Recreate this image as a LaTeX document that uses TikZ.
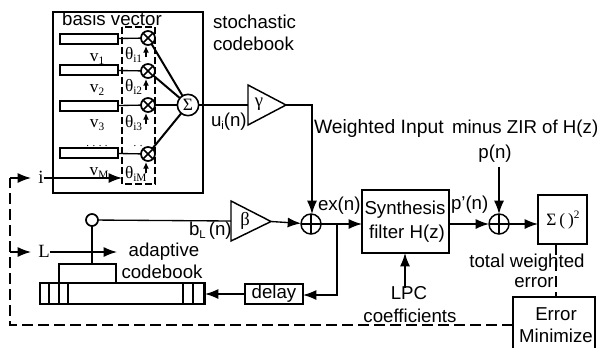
\documentclass[tikz,border=0pt]{standalone}
\usepackage{fontspec}
\setmainfont{Liberation Sans}
\newfontfamily\serifx{Liberation Serif}
\usetikzlibrary{arrows.meta,calc}
\tikzset{
 x=0.75pt,y=-0.75pt,
 every node/.style={inner sep=0pt,outer sep=0pt,font=\fontsize{14}{14}\selectfont},
 wire/.style={draw,line width=1pt},
 arr/.style={wire,-{Latex[length=10pt,width=7.5pt]}},
 thick wire/.style={draw,line width=1.5pt},
 dash wire/.style={draw,line width=1pt,dash pattern=on 8pt off 4pt},
 boxx/.style={draw,line width=1.1pt,inner sep=0pt,anchor=north west},
 cell/.style={draw,line width=1.1pt,anchor=north west,minimum width=43.5pt,minimum height=7.5pt},
 mult/.style={draw,circle,line width=1.3pt,minimum size=10.5pt},
 adder/.style={draw,circle,line width=1.1pt,minimum size=15pt},
 amp/.style={draw,line width=1.1pt},
 ser/.style={font=\serifx\fontsize{13}{13}\selectfont},
 junc/.style={inner sep=0pt,minimum size=0pt},
}
\newcommand{\subx}[1]{\raisebox{-2.5pt}{\fontsize{8.5}{8.5}\selectfont #1}}
\newcommand{\crosscirc}[1]{\draw[line width=1.2pt] ($(#1)+(-4.5,-4.5)$)--($(#1)+(4.5,4.5)$) ($(#1)+(-4.5,4.5)$)--($(#1)+(4.5,-4.5)$);}
\newcommand{\pluscirc}[1]{\draw[line width=1.1pt] ($(#1)+(-10,0)$)--($(#1)+(10,0)$) ($(#1)+(0,-10)$)--($(#1)+(0,10)$);}
\begin{document}
\begin{tikzpicture}
\useasboundingbox (0,0) rectangle (598,347);
% stochastic codebook
\node[boxx,minimum width=112.5pt,minimum height=135.75pt] (sbox) at (53,12) {};
\draw[line width=1pt,dash pattern=on 5pt off 2.5pt] (122,27) rectangle (155,184);
\node[cell] (c1) at (60,34) {};
\node[cell] (c2) at (60,65) {};
\node[cell] (c3) at (60,101) {};
\node[cell] (c4) at (60,148) {};
\node[mult] (m1) at (148,38) {}; \crosscirc{m1}
\node[mult] (m2) at (148,71) {}; \crosscirc{m2}
\node[mult] (m3) at (148,105) {}; \crosscirc{m3}
\node[mult] (m4) at (148,154) {}; \crosscirc{m4}
\node[draw,circle,line width=1.2pt,minimum size=16pt,font=\serifx\fontsize{13}{13}\selectfont] (sum) at (188,105) {Σ};
\foreach \i in {1,2,3,4}{\path[wire] (c\i) -- (m\i);}
\foreach \i in {1,2,4}{\path[thick wire] (m\i) -- (sum);}
\path[wire] (m3) -- (sum);
\foreach \i/\y in {1/57,2/90,3/124,4/173}{
 \coordinate (t\i) at (146,\y);
 \path[wire,-{Latex[length=5pt,width=4.5pt]}] (t\i) -- (146,{\y-11}) ;
}
\node[anchor=base] (bv) at (112,25) {basis vector};
\node[anchor=base west] (sc1) at (213,28) {stochastic};
\node[anchor=base west] (sc2) at (213,50) {codebook};
\node[ser,anchor=base] (v1) at (97,61) {v\subx{1}};
\node[ser,anchor=base] (v2) at (97,92) {v\subx{2}};
\node[ser,anchor=base] (v3) at (97,127) {v\subx{3}};
\node[ser,anchor=base] (v4) at (99,175) {v\subx{M}};
\node[font=\serifx\fontsize{8}{8}\selectfont,anchor=base] (d1) at (97,146) {. . . .};
\node[font=\serifx\fontsize{8}{8}\selectfont,anchor=base] (d2) at (138,146) {. .};
\node[ser,anchor=base west] (th1) at (125,59) {θ\subx{i1}};
\node[ser,anchor=base west] (th2) at (125,91) {θ\subx{i2}};
\node[ser,anchor=base west] (th3) at (125,127) {θ\subx{i3}};
\node[ser,anchor=base west] (th4) at (125,178) {θ\subx{iM}};
% gamma
\node[junc] (gin) at (248,105) {};
\draw[amp] (248,85) -- (286,105) -- (248,125) -- cycle;
\node[font=\serifx\fontsize{14}{14}\selectfont] (gam) at (259,104) {γ};
\coordinate (gout) at (286,105);
\path[wire] (sum) -- (gin);
\node[anchor=base west] (ui) at (211,126) {u\subx{i}(n)};
% adders and blocks
\node[adder] (a1) at (311,224) {}; \pluscirc{a1}
\node[boxx,minimum width=65.25pt,minimum height=47.25pt,align=center] (syn) at (362,190) {};
\node[anchor=base] (synt1) at (405,214) {Synthesis};
\node[anchor=base] (synt2) at (407,238) {filter H(z)};
\node[adder] (a2) at (499,224) {}; \pluscirc{a2}
\node[boxx,minimum width=36.75pt,minimum height=36.75pt] (sq) at (538,195) {};
\node[font=\serifx\fontsize{13}{13}\selectfont] (sqt) at (563,220) {Σ\,(\,)\raisebox{5pt}{\fontsize{8.5}{8.5}\selectfont 2}};
\node[boxx,minimum width=61.5pt,minimum height=39pt] (err) at (513,297) {};
\node[anchor=base] (errt1) at (556,320) {Error};
\node[anchor=base] (errt2) at (556,342) {Minimize};
\path[wire,-{Latex[length=10pt,width=7.5pt]}] (gout) -- (312,105) -- (312,214);
\path[arr] (a1) -- (syn.west|-a1);
\path[arr] (syn.east|-a2) -- (a2);
\path[arr] (a2) -- (sq.west|-a2);
\coordinate (pin) at (499,167);
\path[arr] (pin) -- (a2);
\coordinate (lpc) at (405,288);
\path[arr] (lpc) -- (syn.south-|lpc);
\node[anchor=base west,font=\fontsize{14.5}{14.5}\selectfont] (wi) at (314,133) {Weighted Input};
\node[anchor=base west] (mz) at (452,133) {minus ZIR of H(z)};
\node[anchor=base] (pn) at (495,158) {p(n)};
\node[anchor=base west] (ex) at (318,210) {ex(n)};
\node[anchor=base west] (pp) at (451,209) {p'(n)};
\node[anchor=base] (tw) at (527,267) {total weighted};
\node[anchor=base] (er) at (534,287) {error};
\node[anchor=base] (lp) at (409,299) {LPC};
\node[anchor=base] (co) at (410,322) {coefficients};
\path[dash wire] (sq.south-|556,0) -- (err.north-|556,0);
% adaptive codebook
\node[boxx,minimum width=123.75pt,minimum height=15.75pt] (long) at (40,283) {};
\node[boxx,minimum width=42.75pt,minimum height=14.25pt] (win) at (59,264) {};
\foreach \x in {49,59,68,183,193,204}{\draw[line width=1.1pt] (\x,283) -- (\x,304);}
\node[draw,circle,line width=1.3pt,minimum size=9pt] (sw) at (92,220) {};
\path[wire] (sw) -- (92,264);
\draw[amp] (231,201) -- (271,221.5) -- (231,241) -- cycle;
\node[junc] (bin) at (231,221) {};
\coordinate (bout) at (271,221.5);
\node[font=\serifx\fontsize{14}{14}\selectfont] (bet) at (245,221) {β};
\path[wire] (sw) -- (bin);
\path[arr] (bout) -- (a1);
\node[anchor=base west] (bl) at (189,235) {b\subx{L}\,(n)};
\node[anchor=base] (ad) at (164,256) {adaptive};
\node[anchor=base] (cb) at (162,278) {codebook};
\node[boxx,minimum width=43.5pt,minimum height=15pt] (del) at (245,284) {};
\node (delt) at (274,294) {delay};
\coordinate (tap) at (337,224);
\path[arr] (tap) -- (337,295) -- (del.east|-0,295);
\path[arr] (del.west) -- (long.east|-del.west);
% control lines
\node[font=\serifx\fontsize{14}{14}\selectfont,anchor=base] (il) at (41,183) {i};
\node[font=\serifx\fontsize{14}{14}\selectfont,anchor=base] (ll) at (44,257) {L};
\path[dash wire] (err.west|-0,325) -- (10,325) -- (10,178);
\path[wire,-{Latex[length=10pt,width=7.5pt]}] (10,178) -- (31,178);
\path[arr] (10,252) -- (31,252);
\path[arr] (ll.east|-0,252) -- (117,252);
\path[arr] (il.east|-0,178) -- (122,178);
\end{tikzpicture}
\end{document}
